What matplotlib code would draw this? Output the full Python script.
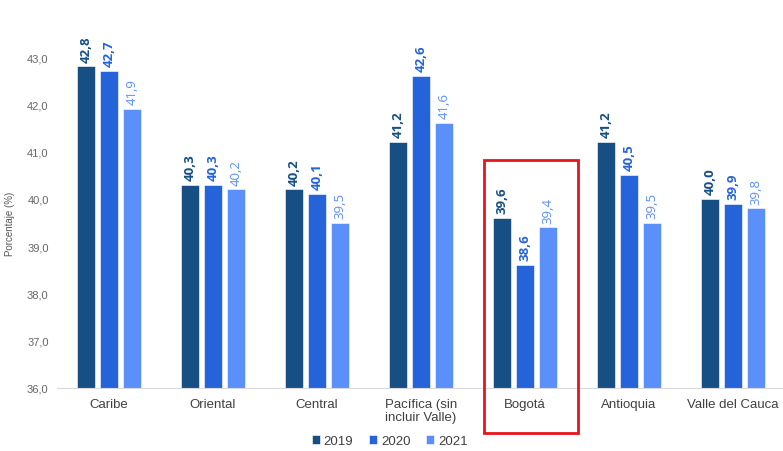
import matplotlib.pyplot as plt
from matplotlib.patches import Rectangle
import numpy as np

regiones = ['Caribe', 'Oriental', 'Central', 'Pacífica (sin\nincluir Valle)', 'Bogotá', 'Antioquia', 'Valle del Cauca']
anios = ['2019', '2020', '2021']
v2019 = [42.8, 40.3, 40.2, 41.2, 39.6, 41.2, 40.0]
v2020 = [42.7, 40.3, 40.1, 42.6, 38.6, 40.5, 39.9]
v2021 = [41.9, 40.2, 39.5, 41.6, 39.4, 39.5, 39.8]
colores = ['#174f85', '#2563d8', '#5b8ffa']

plt.rcParams['font.family'] = ['Liberation Sans', 'DejaVu Sans']

fig = plt.figure(figsize=(7.83, 4.52), dpi=100)
ax = fig.add_axes([57/783, 63/452, 728/783, 331/452])

x = np.arange(len(regiones))
ancho = 0.173
paso = 0.221
series = [v2019, v2020, v2021]
for i, (vals, col) in enumerate(zip(series, colores)):
    pos = x + (i - 1) * paso
    ax.bar(pos, [v - 36 for v in vals], width=ancho, bottom=36, color=col,
           label=anios[i], edgecolor='white', linewidth=0.4)
    for p, v in zip(pos, vals):
        ax.text(p, v + 0.1, f'{v:.1f}'.replace('.', ','), rotation=90,
                ha='center', va='bottom', color=col, fontsize=9.5,
                fontweight='bold' if i < 2 else 'normal', family='Open Sans',
                clip_on=False)

ax.set_xlim(-0.5, len(regiones) - 0.5)
ax.set_ylim(36, 43)
ax.set_yticks(np.arange(36, 43.5, 1.0))
ax.set_yticklabels([f'{t:.1f}'.replace('.', ',') for t in np.arange(36, 43.5, 1.0)])
ax.set_xticks(x)
ax.set_xticklabels(regiones, fontsize=9.5, color='#404040', linespacing=1.1)
ax.tick_params(axis='y', length=0, labelsize=8, labelcolor='#666666', pad=6)
ax.tick_params(axis='x', length=0, pad=7)
ax.set_ylabel('Porcentaje (%)', fontsize=7, color='#555555')
ax.yaxis.set_label_coords((15 - 57) / 728, 0.5)
for s in ['top', 'right', 'left']:
    ax.spines[s].set_visible(False)
ax.spines['bottom'].set_color('#d9d9d9')

fig.legend(loc='lower center', bbox_to_anchor=(0.498, -0.018), ncol=3, frameon=False,
           fontsize=9.5, handlelength=0.6, handleheight=0.6, handletextpad=0.3,
           columnspacing=1.2, labelcolor='#404040')

fig.patches.append(Rectangle((484/783, 1 - 434/452), 94/783, 273/452,
                             transform=fig.transFigure, fill=False,
                             edgecolor='#e8141c', linewidth=2))

fig.savefig('out.png', dpi=100)
